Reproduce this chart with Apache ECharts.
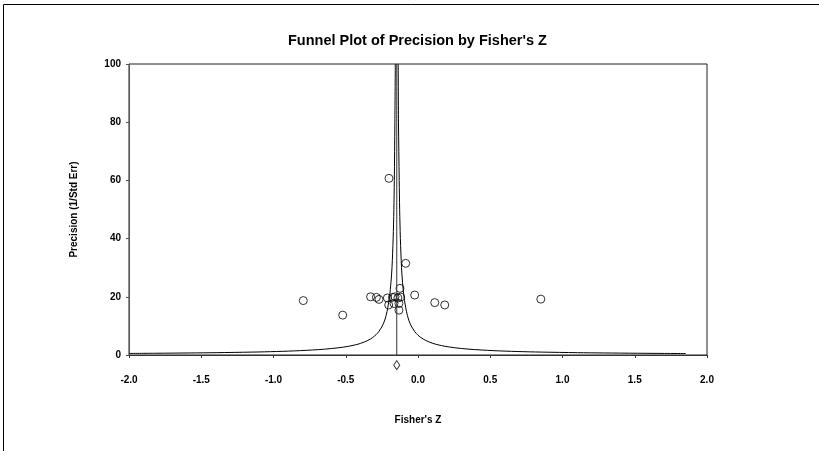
<!DOCTYPE html>
<html>
<head>
<meta charset="utf-8">
<script src="https://cdn.jsdelivr.net/npm/echarts@6/dist/echarts.min.js"></script>
<style>
  html, body { margin: 0; padding: 0; background: #fff; }
  #container { width: 819px; height: 451px; }
</style>
</head>
<body>
<div id="container"></div>
<script>
// studies: Fisher's Z and precision (1/SE)
var studyZ = [-0.201, -0.085, -0.794, -0.521, -0.328, -0.288, -0.270, -0.212, -0.203, -0.177, -0.159,
              -0.139, -0.125, -0.132, -0.166, -0.132, -0.120, -0.023, 0.116, 0.185, 0.850];
var studyPrecision = [60.7, 31.5, 18.7, 13.7, 20.0, 19.8, 19.1, 19.6, 17.2, 19.8, 20.0,
                      19.6, 22.9, 17.7, 17.7, 15.4, 19.9, 20.6, 18.0, 17.2, 19.2];

// combined estimate
var centerZ = -0.147;
var centerPrecision = [0, 100];
var diamondPrecision = -3.5;

// funnel limits
var funnelPrecision = [100, 80, 60, 50, 40, 30, 25, 20, 15, 12, 10, 8, 7, 6, 5, 4, 3.5, 3, 2.5, 2, 1.5, 1.2, 1.0, 0.8, 0.7, 0.6, 0.54, 0.5];
var funnelLeftZ = [-0.157, -0.160, -0.164, -0.167, -0.172, -0.180, -0.187, -0.197, -0.214, -0.230, -0.247, -0.272, -0.290, -0.314,
                   -0.347, -0.397, -0.433, -0.480, -0.547, -0.647, -0.814, -0.980, -1.147, -1.397, -1.576, -1.814, -2.0, null];
var funnelRightZ = [-0.137, -0.135, -0.130, -0.127, -0.122, -0.114, -0.107, -0.097, -0.080, -0.064, -0.047, -0.022, -0.004, 0.020,
                    0.053, 0.103, 0.139, 0.186, 0.253, 0.353, 0.520, 0.686, 0.853, 1.103, 1.282, 1.520, 1.705, 1.853];

var xTicks = [-2.0, -1.5, -1.0, -0.5, 0.0, 0.5, 1.0, 1.5, 2.0];
var yTicks = [0, 20, 40, 60, 80, 100];

function pairs(zs, ps) {
    var out = [];
    for (var i = 0; i < zs.length; i++) {
        if (zs[i] !== null) out.push([zs[i], ps[i]]);
    }
    return out;
}

var myChart = echarts.init(document.getElementById('container'), null, {renderer: 'canvas'});
var font = 'Liberation Sans, Arial, sans-serif';

var option = {
    animation: false,
    backgroundColor: '#fff',
    title: {
        text: "Funnel Plot of Precision by Fisher's Z",
        left: 283,
        top: 28,
        textStyle: {fontFamily: font, fontSize: 14.5, fontWeight: 'bold', color: '#000'}
    },
    graphic: [{
        type: 'polyline',
        shape: {points: [[3.5, 451], [3.5, 4.5], [819, 4.5]]},
        style: {stroke: '#000', lineWidth: 1, fill: null}
    }],
    grid: {
        left: 129, right: 112, top: 64, bottom: 96,
        show: true, borderColor: '#222', borderWidth: 1
    },
    xAxis: {
        type: 'value',
        min: xTicks[0],
        max: xTicks[xTicks.length - 1],
        interval: 0.5,
        name: "Fisher's Z",
        nameLocation: 'middle',
        nameGap: 60,
        nameTextStyle: {fontFamily: font, fontSize: 10, fontWeight: 'bold', color: '#000'},
        axisLine: {onZero: false, lineStyle: {color: '#333'}},
        axisTick: {length: 3, lineStyle: {color: '#333'}},
        splitLine: {show: false},
        axisLabel: {
            margin: 20,
            fontFamily: font, fontSize: 10, fontWeight: 'bold', color: '#000',
            formatter: function (v) { return v.toFixed(1); }
        }
    },
    yAxis: {
        type: 'value',
        min: yTicks[0],
        max: yTicks[yTicks.length - 1],
        interval: 20,
        name: 'Precision (1/Std Err)',
        nameLocation: 'middle',
        nameGap: 50,
        nameTextStyle: {fontFamily: font, fontSize: 10, fontWeight: 'bold', color: '#000'},
        axisLine: {show: true, onZero: false, lineStyle: {color: '#555'}},
        axisTick: {show: true, length: 3, lineStyle: {color: '#555'}},
        splitLine: {show: false},
        axisLabel: {margin: 8, fontFamily: font, fontSize: 10, fontWeight: 'bold', color: '#000'}
    },
    series: [
        {
            type: 'line',
            data: pairs(funnelLeftZ, funnelPrecision),
            symbol: 'none',
            smooth: 0.3,
            lineStyle: {color: '#000', width: 1}
        },
        {
            type: 'line',
            data: pairs(funnelRightZ, funnelPrecision),
            symbol: 'none',
            smooth: 0.3,
            lineStyle: {color: '#000', width: 1}
        },
        {
            type: 'line',
            data: [[centerZ, centerPrecision[0]], [centerZ, centerPrecision[1]]],
            symbol: 'none',
            lineStyle: {color: '#333', width: 1}
        },
        {
            type: 'scatter',
            data: pairs(studyZ, studyPrecision),
            symbol: 'circle',
            symbolSize: 8,
            itemStyle: {color: 'rgba(0,0,0,0)', borderColor: '#000', borderWidth: 1}
        },
        {
            type: 'scatter',
            data: [[centerZ, diamondPrecision]],
            clip: false,
            symbol: 'diamond',
            symbolSize: [6, 9],
            itemStyle: {color: '#fff', borderColor: '#000', borderWidth: 1}
        }
    ]
};

myChart.setOption(option, true);
</script>
</body>
</html>
